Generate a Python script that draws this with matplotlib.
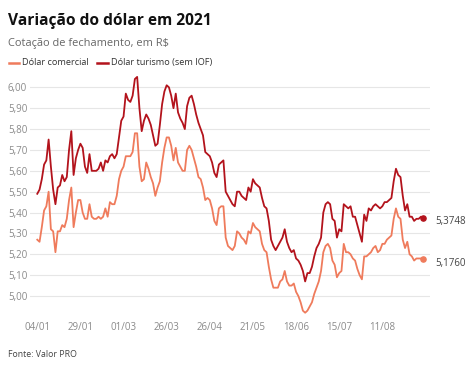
import matplotlib.pyplot as plt
from matplotlib.lines import Line2D
import numpy as np

plt.rcParams['font.family'] = ['Open Sans', 'DejaVu Sans']

# daily closing quotes (R$), trading days from 04/01/2021
turismo = [
    5.49, 5.51, 5.56, 5.63, 5.65, 5.75, 5.62, 5.51, 5.44, 5.52,
    5.53, 5.58, 5.55, 5.57, 5.70, 5.79, 5.58, 5.66, 5.70, 5.73,
    5.71, 5.62, 5.59, 5.68, 5.60, 5.60, 5.60, 5.61, 5.64, 5.60,
    5.65, 5.64, 5.67, 5.68, 5.66, 5.68, 5.76, 5.84, 5.86, 5.97,
    5.94, 5.93, 5.96, 6.04, 6.05, 5.90, 5.79, 5.84, 5.87, 5.85,
    5.82, 5.77, 5.72, 5.73, 5.82, 5.92, 5.98, 6.01, 6.00, 5.96,
    5.90, 5.97, 5.88, 5.85, 5.83, 5.80, 5.91, 5.95, 5.96, 5.92,
    5.87, 5.83, 5.80, 5.77, 5.69, 5.68, 5.67, 5.64, 5.59, 5.57,
    5.63, 5.64, 5.65, 5.50, 5.48, 5.46, 5.44, 5.43, 5.50, 5.50,
    5.48, 5.47, 5.46, 5.52, 5.50, 5.56, 5.54, 5.53, 5.52, 5.47,
    5.43, 5.42, 5.36, 5.27, 5.24, 5.22, 5.24, 5.26, 5.28, 5.32,
    5.26, 5.23, 5.21, 5.22, 5.18, 5.17, 5.15, 5.12, 5.07, 5.11,
    5.11, 5.14, 5.19, 5.23, 5.25, 5.28, 5.40, 5.44, 5.45, 5.44,
    5.37, 5.36, 5.28, 5.32, 5.31, 5.44, 5.43, 5.42, 5.43, 5.38,
    5.38, 5.34, 5.30, 5.26, 5.39, 5.36, 5.42, 5.41, 5.43, 5.44,
    5.43, 5.42, 5.43, 5.45, 5.45, 5.46, 5.47, 5.55, 5.61, 5.58,
    5.57, 5.48, 5.41, 5.44, 5.38, 5.38, 5.36, 5.37, 5.37, 5.38,
    5.3748,
]

comercial = [
    5.27, 5.26, 5.33, 5.41, 5.43, 5.50, 5.32, 5.31, 5.21, 5.31,
    5.31, 5.34, 5.33, 5.37, 5.46, 5.52, 5.33, 5.40, 5.46, 5.46,
    5.40, 5.37, 5.37, 5.44, 5.38, 5.37, 5.37, 5.38, 5.37, 5.38,
    5.42, 5.38, 5.45, 5.44, 5.44, 5.48, 5.56, 5.60, 5.62, 5.67,
    5.67, 5.67, 5.69, 5.78, 5.78, 5.62, 5.55, 5.56, 5.64, 5.61,
    5.57, 5.54, 5.48, 5.52, 5.55, 5.64, 5.71, 5.76, 5.76, 5.72,
    5.65, 5.71, 5.64, 5.62, 5.60, 5.60, 5.70, 5.72, 5.70, 5.66,
    5.62, 5.57, 5.56, 5.52, 5.46, 5.47, 5.46, 5.42, 5.36, 5.34,
    5.42, 5.43, 5.43, 5.28, 5.24, 5.23, 5.22, 5.24, 5.31, 5.30,
    5.28, 5.27, 5.25, 5.31, 5.30, 5.35, 5.33, 5.32, 5.31, 5.25,
    5.22, 5.21, 5.14, 5.08, 5.04, 5.04, 5.04, 5.07, 5.08, 5.12,
    5.07, 5.05, 5.05, 5.06, 5.02, 5.00, 4.97, 4.93, 4.92, 4.93,
    4.95, 4.97, 5.01, 5.04, 5.07, 5.12, 5.21, 5.24, 5.25, 5.23,
    5.17, 5.15, 5.09, 5.11, 5.12, 5.25, 5.21, 5.21, 5.20, 5.18,
    5.17, 5.13, 5.10, 5.08, 5.19, 5.19, 5.20, 5.21, 5.23, 5.24,
    5.21, 5.22, 5.25, 5.25, 5.27, 5.28, 5.29, 5.37, 5.42, 5.38,
    5.37, 5.27, 5.23, 5.26, 5.20, 5.19, 5.17, 5.18, 5.18, 5.18,
    5.1760,
]

tick_labels = ['04/01', '29/01', '01/03', '26/03', '26/04', '21/05', '18/06', '15/07', '11/08']
tick_step = 19
y_ticks = [5.00, 5.10, 5.20, 5.30, 5.40, 5.50, 5.60, 5.70, 5.80, 5.90, 6.00]

COL_COM = '#ef7b5c'
COL_TUR = '#b3131c'

fig = plt.figure(figsize=(4.74, 3.67), dpi=100)
ax = fig.add_axes([0.0633, 0.1365, 0.8439, 0.671])

x = np.arange(len(turismo))
ax.plot(x, comercial, color=COL_COM, linewidth=1.3, solid_joinstyle='round', zorder=3)
ax.plot(x, turismo, color=COL_TUR, linewidth=1.3, solid_joinstyle='round', zorder=3)
ax.scatter([x[-1]], [comercial[-1]], s=14, color=COL_COM, zorder=4)
ax.scatter([x[-1]], [turismo[-1]], s=14, color=COL_TUR, zorder=4)

for val in (turismo[-1], comercial[-1]):
    ax.annotate(f'{val:.4f}'.replace('.', ','), xy=(x[-1], val), xytext=(9, -3),
                textcoords='offset points', va='center', ha='left',
                fontsize=7, color='#444444', annotation_clip=False)

ax.set_xlim(-3.2, 173.0)
ax.set_ylim(4.90, 6.08)
ax.set_xticks(range(0, tick_step * len(tick_labels), tick_step))
ax.set_xticklabels(tick_labels)
ax.set_yticks(y_ticks)
ax.set_yticklabels([f'{v:.2f}'.replace('.', ',') for v in y_ticks])
ax.tick_params(axis='both', length=0, labelsize=7, labelcolor='#8a8a8a')
ax.tick_params(axis='x', pad=4)
ax.tick_params(axis='y', pad=2)
ax.grid(axis='y', color='#e6e6e6', linewidth=0.8)
ax.set_axisbelow(True)
for spine in ax.spines.values():
    spine.set_visible(False)

fig.text(0.017, 1 - 25 / 367, 'Variação do dólar em 2021', fontsize=11.2,
         fontweight='bold', color='#111111', va='baseline')
fig.text(0.017, 1 - 46 / 367, 'Cotação de fechamento, em R$', fontsize=7.9,
         color='#666666', va='baseline')

# legend
ly = 1 - 62.5 / 367
fig.add_artist(Line2D([9 / 474, 19 / 474], [ly, ly], color=COL_COM, linewidth=1.8))
fig.text(22 / 474, ly, 'Dólar comercial', fontsize=6.6, color='#333333', va='center')
fig.add_artist(Line2D([97 / 474, 108 / 474], [ly, ly], color=COL_TUR, linewidth=1.8))
fig.text(111 / 474, ly, 'Dólar turismo (sem IOF)', fontsize=6.6, color='#333333', va='center')

fig.text(0.017, 1 - 357 / 367, 'Fonte: Valor PRO', fontsize=6.3, color='#444444', va='baseline')

fig.savefig('out.png', dpi=100)
